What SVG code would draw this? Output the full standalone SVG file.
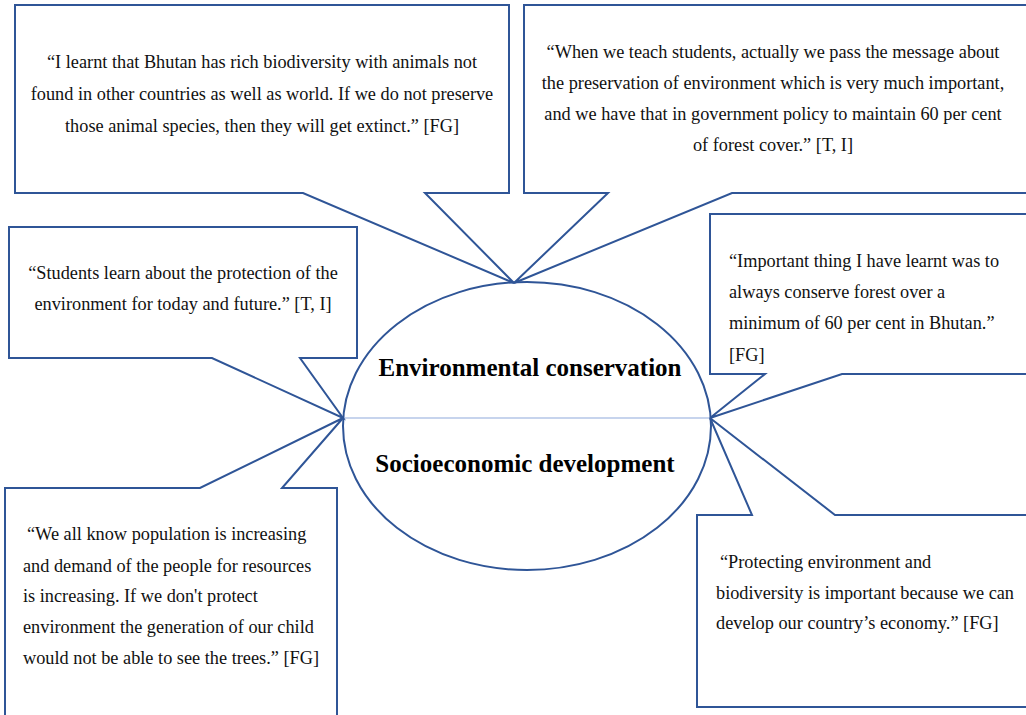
<svg xmlns="http://www.w3.org/2000/svg" width="1026" height="715" viewBox="0 0 1026 715">
<style>
.box{fill:#fff;stroke:#2F5597;stroke-width:2;stroke-linejoin:miter}
.t{font-family:"Liberation Serif","Times New Roman",serif;font-size:18.3px;fill:#111}
.c{text-anchor:middle}
.h{font-family:"Liberation Serif","Times New Roman",serif;font-size:25px;font-weight:bold;fill:#000;text-anchor:middle}
</style>
<rect width="1026" height="715" fill="#fff"/>
<g id="center">
<ellipse cx="527" cy="426" rx="184" ry="144" class="box"/>
<text class="h" x="530" y="376">Environmental conservation</text>
<text class="h" x="525" y="472">Socioeconomic development</text>
</g>
<g id="connectors">
<line x1="344" y1="418" x2="709" y2="418" stroke="#8FAADC" stroke-width="1.2"/>
</g>
<g id="quote1">
<path class="box" d="M15,5 H509 V193 H425 L514,283 L303,193 H15 Z"/>
<text class="t c" x="262" y="68">“I learnt that Bhutan has rich biodiversity with animals not</text>
<text class="t c" x="262" y="100">found in other countries as well as world. If we do not preserve</text>
<text class="t c" x="262" y="132">those animal species, then they will get extinct.” [FG]</text>
</g>
<g id="quote2">
<path class="box" d="M524,5 H1030 V193 H732 L514,283 L608,193 H524 Z"/>
<text class="t c" x="773" y="58">“When we teach students, actually we pass the message about</text>
<text class="t c" x="773" y="89">the preservation of environment which is very much important,</text>
<text class="t c" x="773" y="120">and we have that in government policy to maintain 60 per cent</text>
<text class="t c" x="773" y="151">of forest cover.” [T, I]</text>
</g>
<g id="quote3">
<path class="box" d="M9,227 H357 V358 H300 L343,418 L212,358 H9 Z"/>
<text class="t c" x="183" y="279">“Students learn about the protection of the</text>
<text class="t c" x="183" y="310">environment for today and future.” [T, I]</text>
</g>
<g id="quote4">
<path class="box" d="M710,214 H1030 V374 H842 L710,418 L765,374 H710 Z"/>
<text class="t" x="729" y="267">“Important thing I have learnt was to</text>
<text class="t" x="729" y="298">always conserve forest over a</text>
<text class="t" x="729" y="329">minimum of 60 per cent in Bhutan.”</text>
<text class="t" x="729" y="361">[FG]</text>
</g>
<g id="quote5">
<path class="box" d="M5,488 H200 L343,418 L282,488 H337 V720 H5 Z"/>
<text class="t" x="27" y="540">“We all know population is increasing</text>
<text class="t" x="23" y="572">and demand of the people for resources</text>
<text class="t" x="23" y="602">is increasing. If we don't protect</text>
<text class="t" x="23" y="633">environment the generation of our child</text>
<text class="t" x="23" y="664">would not be able to see the trees.” [FG]</text>
</g>
<g id="quote6">
<path class="box" d="M697,515 H752 L710,418 L835,515 H1030 V707 H697 Z"/>
<text class="t" x="720" y="568">“Protecting environment and</text>
<text class="t" x="716" y="599">biodiversity is important because we can</text>
<text class="t" x="716" y="629">develop our country’s economy.” [FG]</text>
</g>
</svg>
